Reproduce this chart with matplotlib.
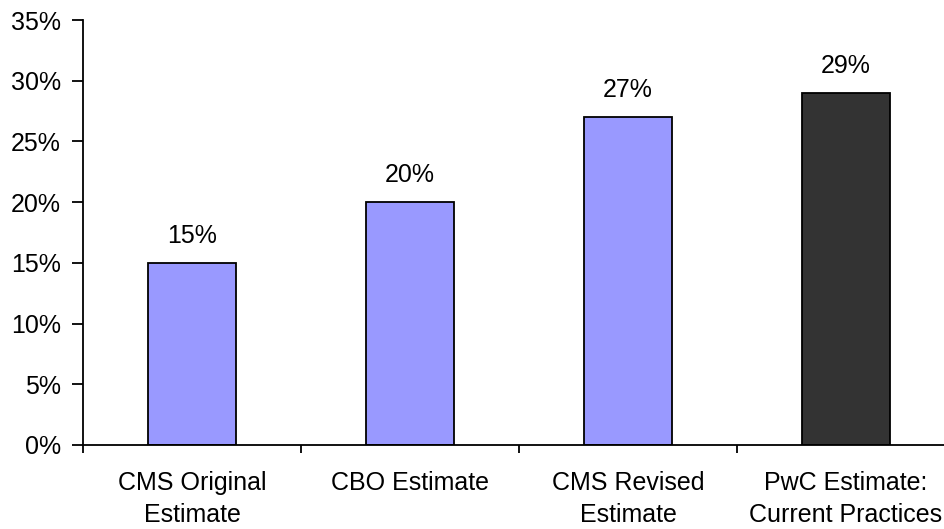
import matplotlib.pyplot as plt
from matplotlib.ticker import FuncFormatter, MultipleLocator

plt.rcParams["font.family"] = ["Liberation Sans", "DejaVu Sans"]

categories = [
    "CMS Original\nEstimate",
    "CBO Estimate",
    "CMS Revised\nEstimate",
    "PwC Estimate:\nCurrent Practices",
]
values = [15, 20, 27, 29]
colors = ["#9999FF", "#9999FF", "#9999FF", "#333333"]

fig = plt.figure(figsize=(9.45, 5.29), dpi=100)
ax = fig.add_axes([83 / 945, 84 / 529, 872 / 945, 425 / 529])

x = range(len(categories))
bars = ax.bar(x, values, width=0.4, color=colors, edgecolor="black", linewidth=1.3)

for rect, v in zip(bars, values):
    ax.annotate(
        f"{v}%",
        xy=(rect.get_x() + rect.get_width() / 2, rect.get_height()),
        xytext=(0, 11),
        textcoords="offset points",
        ha="center",
        va="bottom",
        fontsize=18,
    )

ax.set_xlim(-0.5, len(categories) - 0.5)
ax.set_ylim(0, 35)
ax.yaxis.set_major_locator(MultipleLocator(5))
ax.yaxis.set_major_formatter(FuncFormatter(lambda v, p: f"{v:.0f}%"))

# category names centred under bars, ticks on the boundaries
ax.set_xticks(list(x))
ax.set_xticklabels(categories, fontsize=18, linespacing=1.4)
ax.tick_params(axis="x", which="major", length=0, pad=19)
ax.set_xticks([i - 0.5 for i in range(len(categories) + 1)], minor=True)
ax.tick_params(axis="x", which="minor", length=6, width=1.3)
ax.tick_params(axis="y", length=8, width=1.3, pad=8, labelsize=18)

for side in ["top", "right"]:
    ax.spines[side].set_visible(False)
for side in ["left", "bottom"]:
    ax.spines[side].set_linewidth(1.3)

plt.savefig("out.png", dpi=100)
